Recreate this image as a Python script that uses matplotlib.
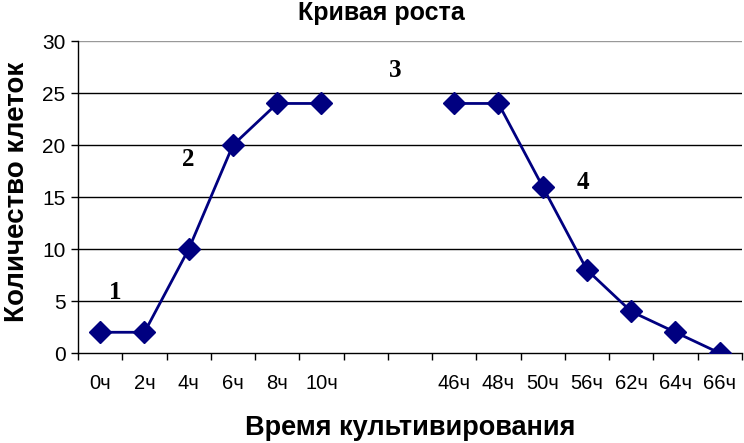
import numpy as np
import matplotlib.pyplot as plt

# categories (two empty slots between 10ч and 46ч)
hours = ["0ч", "2ч", "4ч", "6ч", "8ч", "10ч", "", "", "46ч", "48ч", "50ч", "56ч", "62ч", "64ч", "66ч"]
cells = [2, 2, 10, 20, 24, 24, np.nan, np.nan, 24, 24, 16, 8, 4, 2, 0]

# phase labels
phase_names = ["1", "2", "3", "4"]
phase_x = [0.34, 1.99, 6.66, 10.9]
phase_y = [5.8, 18.6, 27.2, 16.4]

plt.rcParams["font.family"] = ["Liberation Sans", "DejaVu Sans"]

fig = plt.figure(figsize=(7.44, 4.43), dpi=100)
ax = fig.add_axes([0.105, 0.203, 0.892, 0.7043])

x = np.arange(len(hours))
ax.plot(x, cells, color="#000080", lw=2, marker="D", ms=11, zorder=3)

for lbl, px, py in zip(phase_names, phase_x, phase_y):
    ax.text(px, py, lbl, ha="center", va="center", fontsize=18,
            fontweight="bold", family="Liberation Serif")

ax.set_xlim(-0.5, len(hours) - 0.5)
ax.set_ylim(0, 30)
ax.set_yticks(range(0, 31, 5))
for v in range(5, 26, 5):
    ax.axhline(v, color="black", lw=1, zorder=1)
ax.axhline(30, color="#999999", lw=1, zorder=1)

ax.set_xticks(np.arange(-0.5, len(hours), 1))
ax.set_xticklabels([])
ax.set_xticks(x, minor=True)
ax.set_xticklabels(hours, minor=True)
ax.tick_params(axis="x", which="minor", length=0, pad=15, labelsize=14.5)
ax.tick_params(axis="x", which="major", length=5, width=1, color="black")
ax.tick_params(axis="y", length=5, width=1, labelsize=15, pad=4)

for s in ["top", "right"]:
    ax.spines[s].set_visible(False)
ax.spines["left"].set_linewidth(1)
ax.spines["bottom"].set_linewidth(1)

fig.text(381 / 744, 1 - 13 / 443, "Кривая роста", ha="center", va="center",
         fontsize=18, fontweight="bold")
fig.text(410 / 744, 1 - 428 / 443, "Время культивирования", ha="center", va="center",
         fontsize=19.5, fontweight="bold")
fig.text(17 / 744, 1 - 192 / 443, "Количество клеток", ha="center", va="center",
         fontsize=20, fontweight="bold", rotation=90)

fig.savefig("out.png", dpi=100)
